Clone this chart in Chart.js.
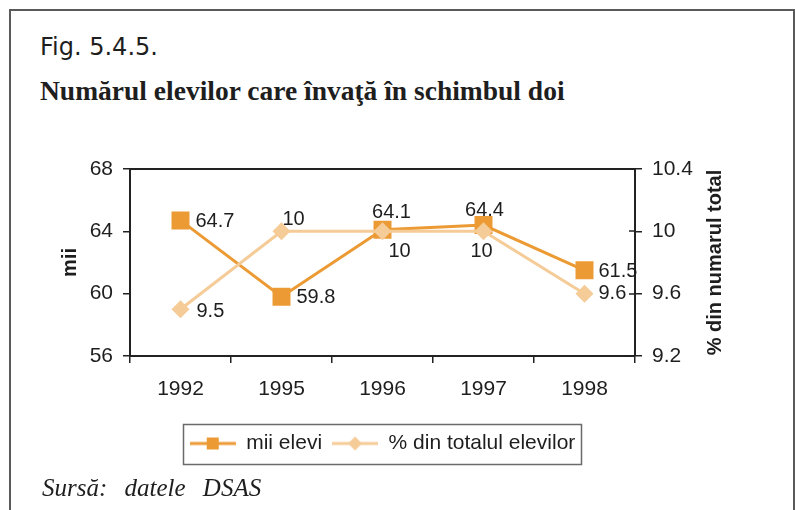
<!DOCTYPE html>
<html>
<head>
<meta charset="utf-8">
<script src="https://cdn.jsdelivr.net/npm/chart.js@4.4.1/dist/chart.umd.min.js"></script>
<style>
  html, body { margin: 0; padding: 0; background: #fff; }
  #wrap { position: relative; width: 795px; height: 510px; overflow: hidden; }
  #frame { position: absolute; left: 9px; top: 9px; width: 786px; height: 540px;
           border: 2px solid #5a5a5a; box-sizing: border-box; }
  .txt { position: absolute; white-space: nowrap; color: #1e1e1e; }
  #fig { left: 40px; top: 35px; font: 24px/24px 'DejaVu Sans', sans-serif; }
  #title { left: 40px; top: 77px; font: bold 27.5px/27.5px 'Liberation Serif', serif; }
  #src { left: 42px; top: 475px; font: italic 25px/25px 'Liberation Serif', serif; word-spacing: 11px; }
  #c { position: absolute; left: 0; top: 0; }
</style>
</head>
<body>
<div id="wrap">
  <div id="frame"></div>
  <div id="fig" class="txt">Fig. 5.4.5.</div>
  <div id="title" class="txt">Numărul elevilor care învaţă în schimbul doi</div>
  <canvas id="c" width="795" height="510"></canvas>
  <div id="src" class="txt">Sursă: datele DSAS</div>
</div>
<script>
// Years on the category axis
const years = ['1992', '1995', '1996', '1997', '1998'];
// Pupils in the second shift, thousands
const miiElevi = [64.7, 59.8, 64.1, 64.4, 61.5];
// Share of all pupils, percent
const procentElevi = [9.5, 10, 10, 10, 9.6];
// Axis tick values
const miiTicks = [56, 60, 64, 68];
const procentTicks = [9.2, 9.6, 10, 10.4];

const seriesNames = ['mii elevi', '% din totalul elevilor'];
const darkOrange = '#ec9a34';
const lightOrange = '#f5cb97';
const ink = '#1e1e1e';
const axisColor = '#222';
const sansFamily = '"Liberation Sans", Arial, sans-serif';

// Where each value label sits relative to its point
const miiLabelPlace = [
  { dx: 15, dy: 1, align: 'left' },
  { dx: 15, dy: 1, align: 'left' },
  { dx: 9, dy: -17, align: 'center' },
  { dx: 1, dy: -15, align: 'center' },
  { dx: 14, dy: 1, align: 'left' }
];
const procentLabelPlace = [
  { dx: 16, dy: 2, align: 'left' },
  { dx: 1, dy: -12, align: 'left' },
  { dx: 17, dy: 20, align: 'center' },
  { dx: -2, dy: 20, align: 'center' },
  { dx: 14, dy: 0, align: 'left' }
];

function fmt(v) { return String(Number(v.toFixed(1))); }

// Legend sample: a short line with the series marker in the middle
function legendSample(color, shape) {
  const c = document.createElement('canvas');
  c.width = 46; c.height = 18;
  const g = c.getContext('2d');
  g.strokeStyle = color; g.lineWidth = 3;
  g.beginPath(); g.moveTo(0, 9); g.lineTo(46, 9); g.stroke();
  g.fillStyle = color;
  if (shape === 'rect') {
    g.fillRect(17, 3, 12, 12);
  } else {
    g.beginPath(); g.moveTo(23, 2); g.lineTo(30, 9); g.lineTo(23, 16); g.lineTo(16, 9); g.closePath(); g.fill();
  }
  return c;
}
const samples = [legendSample(darkOrange, 'rect'), legendSample(lightOrange, 'diamond')];

const decorPlugin = {
  id: 'decor',
  beforeDatasetsDraw(chart) {
    const { ctx, chartArea: a } = chart;
    ctx.save();
    ctx.strokeStyle = axisColor; ctx.lineWidth = 2;
    ctx.beginPath(); ctx.moveTo(a.left, a.top); ctx.lineTo(a.right, a.top); ctx.stroke();
    // inner half of the right-hand tick marks
    const y1 = chart.scales.y1;
    ctx.lineWidth = 1.5;
    procentTicks.forEach(v => {
      const py = Math.round(y1.getPixelForValue(v));
      ctx.beginPath(); ctx.moveTo(a.right - 6, py); ctx.lineTo(a.right, py); ctx.stroke();
    });
    ctx.restore();
  },
  afterDatasetsDraw(chart) {
    const { ctx } = chart;
    ctx.save();
    ctx.font = '20px ' + sansFamily;
    ctx.fillStyle = ink;
    ctx.textBaseline = 'middle';
    const sets = [[miiElevi, miiLabelPlace], [procentElevi, procentLabelPlace]];
    sets.forEach(([vals, place], di) => {
      const meta = chart.getDatasetMeta(di);
      meta.data.forEach((pt, i) => {
        const p = place[i];
        ctx.textAlign = p.align;
        ctx.fillText(fmt(vals[i]), pt.x + p.dx, pt.y + p.dy);
      });
    });
    ctx.restore();
  },
  afterDraw(chart) {
    const { ctx, chartArea: a } = chart;
    ctx.save();
    // right axis title, reading bottom to top
    ctx.translate(715, (a.top + a.bottom) / 2);
    ctx.rotate(-Math.PI / 2);
    ctx.font = 'bold 20px ' + sansFamily;
    ctx.fillStyle = ink;
    ctx.textAlign = 'center';
    ctx.textBaseline = 'middle';
    ctx.fillText('% din numarul total', 0, 0);
    ctx.restore();
    // frame round the legend
    const hb = chart.legend.legendHitBoxes;
    if (hb && hb.length) {
      const l = Math.min(...hb.map(h => h.left)) - 7;
      const r = Math.max(...hb.map(h => h.left + h.width)) + 5;
      const cy = hb[0].top + hb[0].height / 2;
      ctx.save();
      ctx.strokeStyle = '#6a6a6a'; ctx.lineWidth = 1.5;
      ctx.strokeRect(Math.round(l) + 0.5, Math.round(cy - 20) + 0.5, Math.round(r - l), 40);
      ctx.restore();
    }
  }
};

new Chart(document.getElementById('c'), {
  type: 'line',
  data: {
    labels: years,
    datasets: [
      {
        label: seriesNames[0],
        data: miiElevi,
        yAxisID: 'y',
        order: 1,
        borderColor: darkOrange,
        backgroundColor: darkOrange,
        borderWidth: 3,
        pointStyle: 'rect',
        pointRadius: 12.7,
        pointBorderWidth: 0,
        tension: 0
      },
      {
        label: seriesNames[1],
        data: procentElevi,
        yAxisID: 'y1',
        order: 0,
        borderColor: lightOrange,
        backgroundColor: lightOrange,
        borderWidth: 3,
        pointStyle: 'rectRot',
        pointRadius: 9,
        pointBorderWidth: 0,
        tension: 0
      }
    ]
  },
  options: {
    responsive: false,
    animation: false,
    events: [],
    layout: { padding: { left: 40, right: 60, top: 169, bottom: 46 } },
    plugins: {
      tooltip: { enabled: false },
      title: { display: false },
      legend: {
        position: 'bottom',
        fullSize: false,
        labels: {
          usePointStyle: true,
          pointStyleWidth: 46,
          padding: 10,
          color: ink,
          font: { family: sansFamily, size: 21 },
          sort: (a, b) => a.datasetIndex - b.datasetIndex,
          generateLabels: (chart) => chart.data.datasets.map((ds, i) => ({
            text: ds.label,
            datasetIndex: i,
            pointStyle: samples[i],
            fillStyle: ds.borderColor,
            strokeStyle: ds.borderColor,
            lineWidth: 0,
            hidden: false,
            fontColor: ink
          }))
        }
      }
    },
    scales: {
      x: {
        offset: true,
        grid: { offset: true, drawOnChartArea: false, drawTicks: true, tickLength: 7, color: axisColor, lineWidth: 1.5 },
        border: { display: true, color: axisColor, width: 2 },
        ticks: { color: ink, padding: 14, font: { family: sansFamily, size: 21 } },
        afterFit: s => { s.height = 67; }
      },
      y: {
        position: 'left',
        min: 56, max: 68,
        afterBuildTicks: s => { s.ticks = miiTicks.map(v => ({ value: v })); },
        grid: { drawOnChartArea: false, drawTicks: true, tickLength: 7, color: axisColor, lineWidth: 1.5 },
        border: { display: true, color: axisColor, width: 2 },
        ticks: { color: ink, padding: 10, callback: v => fmt(v), font: { family: sansFamily, size: 21 } },
        title: { display: true, text: 'mii', color: ink, padding: { top: 18, bottom: 0 }, font: { family: sansFamily, size: 20, weight: 'bold' } },
        afterFit: s => { s.width = 90; }
      },
      y1: {
        position: 'right',
        min: 9.2, max: 10.4,
        afterBuildTicks: s => { s.ticks = procentTicks.map(v => ({ value: v })); },
        grid: { drawOnChartArea: false, drawTicks: true, tickLength: 7, color: axisColor, lineWidth: 1.5 },
        border: { display: true, color: axisColor, width: 2 },
        ticks: { color: ink, padding: 10, callback: v => fmt(v), font: { family: sansFamily, size: 21 } },
        afterFit: s => { s.width = 100; }
      }
    }
  },
  plugins: [decorPlugin]
});
</script>
</body>
</html>
